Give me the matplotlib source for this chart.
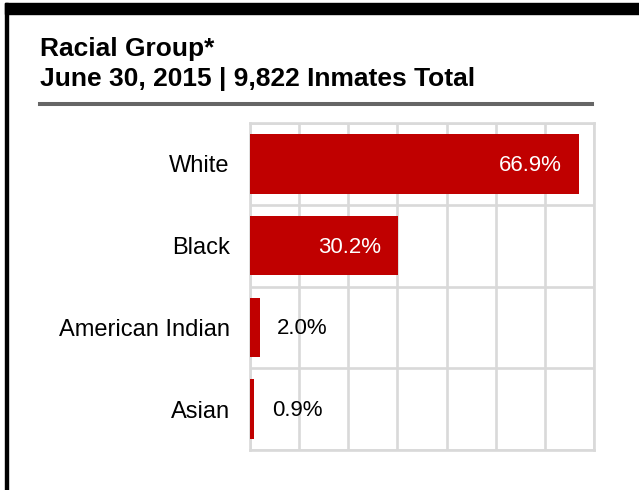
import matplotlib
matplotlib.use("Agg")
import matplotlib.pyplot as plt
from matplotlib.patches import Rectangle
from matplotlib.lines import Line2D
import numpy as np

# --- Dados ---
grupos = ["White", "Black", "American Indian", "Asian"]
percentuais = [66.9, 30.2, 2.0, 0.9]
titulo_1 = "Racial Group*"
titulo_2 = "June 30, 2015 | 9,822 Inmates Total"

plt.rcParams['font.family'] = ['Liberation Sans', 'DejaVu Sans']

W, H = 639, 490
fig = plt.figure(figsize=(W / 100, H / 100), dpi=100)

# --- Moldura preta (faixa superior + linha esquerda) ---
fig.patches.append(Rectangle((5 / W, 1 - 14 / H), 1, 11 / H, transform=fig.transFigure,
                             color='black', zorder=0))
fig.patches.append(Rectangle((4.5 / W, 0), 3.5 / W, 1 - 3 / H, transform=fig.transFigure,
                             color='black', zorder=0))

# --- Título ---
fig.text(40 / W, 1 - 49 / H, titulo_1, fontsize=19, fontweight='bold', va='center', ha='left')
fig.text(40 / W, 1 - 79 / H, titulo_2, fontsize=19, fontweight='bold', va='center', ha='left')
fig.lines.append(Line2D([40 / W, 592 / W], [1 - 104 / H, 1 - 104 / H], transform=fig.transFigure,
                        color='#666666', linewidth=2.9))

# --- Gráfico de barras ---
ax = fig.add_axes([250 / W, 1 - 450 / H, 344 / W, 327 / H])
cinza = '#D9D9D9'
y = np.arange(len(grupos))
ax.barh(y, percentuais, height=0.73, color='#C00000', zorder=3)

ax.set_xlim(0, 70)
ax.set_ylim(len(grupos) - 0.5, -0.5)
ax.set_xticks(np.arange(0, 71, 10))
ax.set_xticklabels([])
ax.set_yticks(y)
ax.set_yticklabels(grupos, fontsize=17)
ax.set_yticks(np.arange(-0.5, len(grupos), 1), minor=True)
ax.tick_params(axis='both', which='both', length=0, pad=14.5)
ax.grid(True, axis='x', which='major', color=cinza, linewidth=1.9, zorder=0)
ax.grid(True, axis='y', which='minor', color=cinza, linewidth=1.9, zorder=0)
for s in ax.spines.values():
    s.set_color(cinza)
    s.set_linewidth(1.9)

for yi, v in zip(y, percentuais):
    if v > 10:
        ax.annotate(f"{v:.1f}%", (v, yi), xytext=(-12.5, -1), textcoords='offset points',
                    ha='right', va='center', color='white', fontsize=16, zorder=4)
    else:
        ax.annotate(f"{v:.1f}%", (v, yi), xytext=(12.5, -1), textcoords='offset points',
                    ha='left', va='center', color='black', fontsize=16, zorder=4)

fig.savefig("out.png", dpi=100)
